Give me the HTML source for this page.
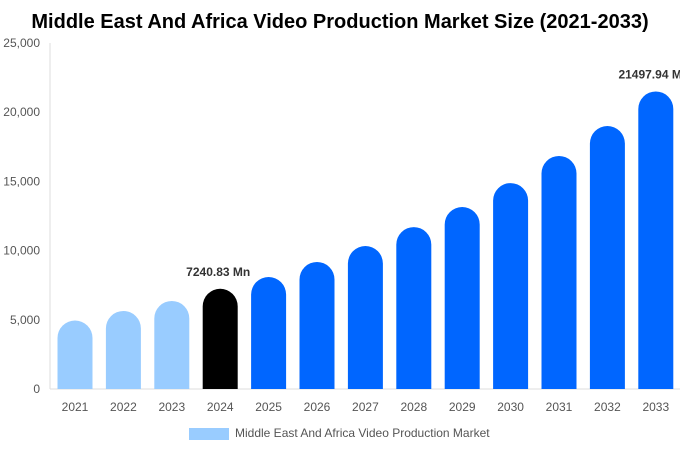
<!DOCTYPE html>
<html><head><meta charset="utf-8"><style>
body{margin:0;background:#fff;width:680px;height:450px;overflow:hidden;font-family:"Liberation Sans",sans-serif}
</style></head><body>
<svg width="680" height="450">
<text x="340" y="28" text-anchor="middle" font-size="20" font-weight="bold" fill="#000">Middle East And Africa Video Production Market Size (2021-2033)</text>
<g id="axes"></g><g id="bars"></g>
<rect x="189" y="428" width="40" height="12" fill="#99ccff"/>
<text x="235" y="437" font-size="12" fill="#555">Middle East And Africa Video Production Market</text>
</svg>
<script>
const categories=["2021","2022","2023","2024","2025","2026","2027","2028","2029","2030","2031","2032","2033"];
const values=[4950,5640,6360,7240.83,8090,9180,10330,11700,13150,14880,16840,19000,21497.94];
const colors=["#99ccff","#99ccff","#99ccff","#000000","#0066ff","#0066ff","#0066ff","#0066ff","#0066ff","#0066ff","#0066ff","#0066ff","#0066ff"];
const yTicks=[0,5000,10000,15000,20000,25000];
const labels={3:"7240.83 Mn",12:"21497.94 Mn"};
const NS="http://www.w3.org/2000/svg";
const y0=389,yTop=43,yMax=25000,xL=50,xStep=48.4,x0=75,bw=35;
const y=v=>y0-(y0-yTop)*v/yMax;
const x=i=>x0+i*xStep;
function mk(t,a,p){const e=document.createElementNS(NS,t);for(const k in a)e.setAttribute(k,a[k]);p.appendChild(e);return e;}
const ax=document.getElementById('axes'),bs=document.getElementById('bars');
const yl=mk('line',{x1:xL,x2:xL,y1:yTop,y2:y0,stroke:'#ddd'},ax);


const xl=mk('line',{x1:xL,x2:680,y1:y0,y2:y0,stroke:'#ddd'},ax);


yTicks.forEach(t=>{const e=mk('text',{x:40,y:y(t)+4,'text-anchor':'end','font-size':12,fill:'#555'},ax);e.textContent=t.toLocaleString('en-US');

});
categories.forEach((c,i)=>{
const cx=x(i),top=y(values[i]),r=bw/2,h=y0-top;
const d=`M${cx-r},${y0} L${cx-r},${top+r} A${r},${r} 0 0 1 ${cx+r},${top+r} L${cx+r},${y0} Z`;
const b=mk('path',{d:d,fill:colors[i]},bs);


const t=mk('text',{x:cx,y:411,'text-anchor':'middle','font-size':12,fill:'#555'},ax);t.textContent=c;


if(labels[i]){const l=mk('text',{x:cx-2,y:top-13,'text-anchor':'middle','font-size':12,'font-weight':'bold',fill:'#333'},bs);l.textContent=labels[i];

}
});
</script>
</body></html>
